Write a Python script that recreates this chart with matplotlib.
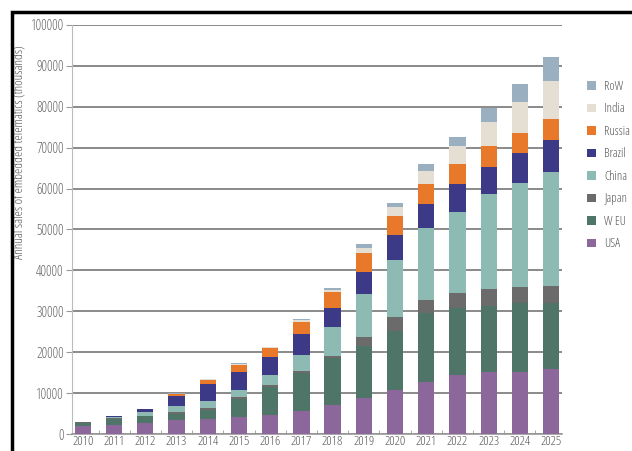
import matplotlib
matplotlib.use("Agg")
import matplotlib.pyplot as plt
import numpy as np
from matplotlib.patches import Rectangle

years = [str(y) for y in range(2010, 2026)]
series_names = ["USA", "W EU", "Japan", "China", "Brazil", "Russia", "India", "RoW"]
usa    = [2000, 2300, 2800, 3400, 3750, 4250, 4650, 5700, 7000, 8800, 10750, 12650, 14400, 15150, 15150, 15800]
weu    = [800, 1300, 1500, 1600, 2200, 4400, 6950, 9150, 11500, 12700, 14450, 16850, 16300, 16150, 16800, 16150]
japan  = [100, 200, 200, 300, 300, 400, 400, 450, 550, 2150, 3300, 3250, 3700, 4100, 3900, 4250]
china  = [100, 400, 900, 1500, 1800, 1700, 2400, 4100, 7050, 10550, 14050, 17550, 19950, 23200, 25450, 27950]
brazil = [0, 100, 600, 2500, 4150, 4500, 4500, 5050, 4700, 5500, 6100, 5900, 6700, 6750, 7350, 7750]
russia = [0, 0, 0, 500, 1000, 1600, 2200, 2850, 4000, 4500, 4650, 4900, 4900, 5050, 5000, 5100]
india  = [0, 0, 0, 100, 150, 350, 200, 500, 500, 1200, 2100, 3300, 4450, 5900, 7600, 9300]
row    = [0, 0, 0, 50, 50, 150, 50, 200, 400, 1000, 1150, 1550, 2300, 3300, 4300, 5950]
y_ticks = [0, 10000, 20000, 30000, 40000, 50000, 60000, 70000, 80000, 90000, 100000]

data = [usa, weu, japan, china, brazil, russia, india, row]
colors = ["#8c679c", "#4e7568", "#6b6b6b", "#8dbab2", "#3c3a86", "#e8792b", "#e4dfd2", "#9aafbf"]

plt.rcParams['font.family'] = ['Open Sans', 'DejaVu Sans']
plt.rcParams['font.stretch'] = 'condensed'
plt.rcParams['font.weight'] = 300

fig = plt.figure(figsize=(6.32, 4.51), dpi=100)
ax = fig.add_axes([72/632, 1-434/451, (562-72)/632, (434-25)/451])

x = np.arange(len(years))
bottom = np.zeros(len(years))
handles = []
for name, vals, c in zip(series_names, data, colors):
    b = ax.bar(x, vals, width=0.52, bottom=bottom, color=c, label=name, zorder=3)
    handles.append(b)
    bottom += np.array(vals)

ax.set_ylim(0, 100000)
ax.set_xlim(-0.35, 15.35)
ax.set_yticks(y_ticks)
ax.set_yticklabels([str(v) for v in y_ticks])
ax.set_xticks(x)
ax.set_xticklabels(years)
ax.set_xticks(x[:-1] + 0.5, minor=True)
ax.tick_params(axis='x', which='major', length=0, labelsize=9.5, colors='#555555', pad=1)
ax.tick_params(axis='x', which='minor', length=3, direction='in', color='#999999')
ax.tick_params(axis='y', length=4, color='#999999', labelsize=10, labelcolor='#666666', pad=2)
ax.grid(axis='y', color='#8a8a8a', linewidth=1.4, zorder=0)
for s in ['top', 'right']:
    ax.spines[s].set_visible(False)
ax.spines['left'].set_color('#bbbbbb')
ax.spines['bottom'].set_color('#999999')
ax.spines['bottom'].set_linewidth(1.2)

ax.set_ylabel("Annual sales of embedded telematics (thousands)", fontsize=9.5, color='#555555')
ax.yaxis.set_label_coords(-0.094, 0.69)

leg = fig.legend(handles[::-1], series_names[::-1], loc='upper left',
                 bbox_to_anchor=(583/632, 1-76/451), frameon=False, fontsize=9,
                 handlelength=0.7, handleheight=0.7, handletextpad=0.7, labelspacing=0.76,
                 labelcolor='#555555', borderaxespad=0, borderpad=0.3)

# black frame
fig.patches.append(Rectangle((12/632, -0.1), 1.2, 1 - 12/451 + 0.1, transform=fig.transFigure,
                             fill=False, edgecolor='black', linewidth=2.5))

fig.savefig("out.png", dpi=100)
